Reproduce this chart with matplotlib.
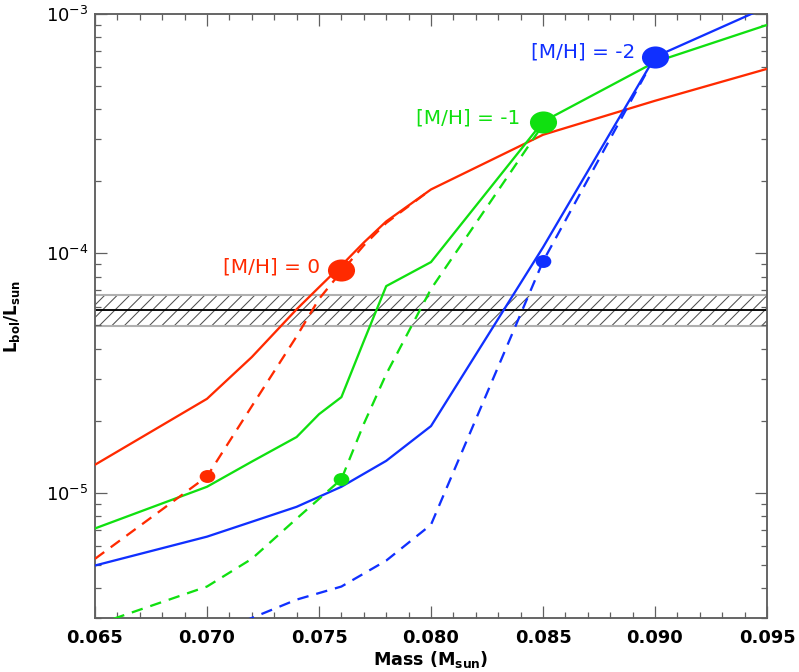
import numpy as np
import matplotlib
matplotlib.use("Agg")
import matplotlib.pyplot as plt
from matplotlib.path import Path
from matplotlib.transforms import Affine2D
from matplotlib.ticker import MultipleLocator, FormatStrFormatter, LogLocator, NullFormatter

plt.rcParams['font.family'] = ['DejaVu Sans']
plt.rcParams['mathtext.fontset'] = 'dejavusans'
plt.rcParams['mathtext.default'] = 'bf'
plt.rcParams['hatch.linewidth'] = 0.5

# model tracks, Lbol/Lsun against mass (Msun)
mass_red = [0.065, 0.070, 0.072, 0.074, 0.075, 0.076, 0.077, 0.078, 0.080, 0.085, 0.090, 0.095]
lum_red = [1.31e-5, 2.47e-5, 3.69e-5, 5.84e-5, 7.22e-5, 8.91e-5, 1.11e-4, 1.36e-4, 1.85e-4, 3.13e-4, 4.34e-4, 5.9e-4]
mass_red_d = [0.065, 0.070, 0.072, 0.074, 0.075, 0.076, 0.077, 0.078, 0.080]
lum_red_d = [5.3e-6, 1.17e-5, 2.3e-5, 4.5e-5, 6.45e-5, 8.4e-5, 1.08e-4, 1.34e-4, 1.85e-4]

mass_green = [0.065, 0.070, 0.072, 0.074, 0.075, 0.076, 0.077, 0.078, 0.080, 0.085, 0.090, 0.095]
lum_green = [7.1e-6, 1.06e-5, 1.35e-5, 1.71e-5, 2.13e-5, 2.51e-5, 4.3e-5, 7.3e-5, 9.2e-5, 3.55e-4, 6.3e-4, 9.0e-4]
mass_green_d = [0.065, 0.070, 0.072, 0.074, 0.076, 0.077, 0.078, 0.080, 0.085]
lum_green_d = [2.8e-6, 4.06e-6, 5.3e-6, 7.8e-6, 1.14e-5, 1.94e-5, 3.13e-5, 7.1e-5, 3.45e-4]

mass_blue = [0.065, 0.070, 0.072, 0.074, 0.076, 0.078, 0.080, 0.085, 0.090, 0.095]
lum_blue = [4.97e-6, 6.56e-6, 7.57e-6, 8.74e-6, 1.06e-5, 1.36e-5, 1.90e-5, 1.06e-4, 6.62e-4, 1.07e-3]
mass_blue_d = [0.070, 0.072, 0.074, 0.076, 0.078, 0.080, 0.085, 0.090]
lum_blue_d = [2.54e-6, 3.0e-6, 3.58e-6, 4.06e-6, 5.21e-6, 7.36e-6, 9.26e-5, 6.62e-4]

# big / small dots
big_mass = [0.076, 0.085, 0.090]
big_lum = [8.5e-5, 3.55e-4, 6.62e-4]
small_mass = [0.070, 0.076, 0.085]
small_lum = [1.17e-5, 1.14e-5, 9.26e-5]

labels = ['[M/H] = 0', '[M/H] = -1', '[M/H] = -2']
colors = ['#ff2a00', '#10e010', '#1030ff']

# observed luminosity and its range
band_lo, band_mid, band_hi = 4.96e-5, 5.79e-5, 6.68e-5

fig = plt.figure(figsize=(799 / 150, 672 / 150), dpi=150)
ax = fig.add_axes([95 / 799, 54 / 672, 672 / 799, 604 / 672])

ax.set_yscale('log')
ax.set_xlim(0.065, 0.095)
ax.set_ylim(3e-6, 1e-3)

ax.fill_between([0.065, 0.095], band_lo, band_hi, facecolor='none', edgecolor='#505050',
                hatch='////', linewidth=0, zorder=1)
ax.axhline(band_lo, color='#b0b0b0', lw=1.0, zorder=1)
ax.axhline(band_hi, color='#b0b0b0', lw=1.0, zorder=1)
ax.axhline(band_mid, color='black', lw=0.9, zorder=2)

solid = [(mass_red, lum_red), (mass_green, lum_green), (mass_blue, lum_blue)]
dashed = [(mass_red_d, lum_red_d), (mass_green_d, lum_green_d), (mass_blue_d, lum_blue_d)]
for (m, l), c in zip(solid, colors):
    ax.plot(m, l, color=c, lw=1.1, zorder=3)
for (m, l), c in zip(dashed, colors):
    ax.plot(m, l, color=c, lw=1.1, dashes=(5, 3.5), zorder=3)

# slightly flattened dots like the original
oval = Path.unit_circle().transformed(Affine2D().scale(1.25, 1.0))
for i, c in enumerate(colors):
    ax.plot(big_mass[i], big_lum[i], marker=oval, ms=12, color=c, zorder=4)
    ax.plot(small_mass[i], small_lum[i], marker=oval, ms=6.5, color=c, zorder=4)

ax.text(0.07504, 8.74e-5, labels[0], color=colors[0], fontsize=9.6, ha='right', va='center')
ax.text(0.08397, 3.69e-4, labels[1], color=colors[1], fontsize=9.6, ha='right', va='center')
ax.text(0.08911, 6.95e-4, labels[2], color=colors[2], fontsize=9.6, ha='right', va='center')

ax.xaxis.set_major_locator(MultipleLocator(0.005))
ax.xaxis.set_minor_locator(MultipleLocator(0.001))
ax.xaxis.set_major_formatter(FormatStrFormatter('%.3f'))
ax.yaxis.set_major_locator(LogLocator(base=10))
ax.yaxis.set_minor_locator(LogLocator(base=10, subs=np.arange(2, 10)))
ax.yaxis.set_minor_formatter(NullFormatter())

ax.tick_params(which='both', direction='in', top=True, right=True, color='#606060')
ax.tick_params(which='major', length=5.8, width=0.6)
ax.tick_params(which='minor', length=2.9, width=0.6)
ax.tick_params(axis='x', which='major', pad=5.5, labelsize=8.6)
ax.tick_params(axis='y', which='major', pad=3.0, labelsize=8.6)
for lab in ax.get_xticklabels():
    lab.set_fontweight('bold')
for sp in ax.spines.values():
    sp.set_color('#606060')
    sp.set_linewidth(0.9)

ax.set_xlabel(r'Mass (M$_{sun}$)', fontsize=8.4, fontweight='bold')
ax.set_ylabel(r'$L_{bol}/L_{sun}$', fontsize=8)
ax.xaxis.set_label_coords(0.5, -0.052)
ax.yaxis.set_label_coords(-0.109, 0.5)

fig.savefig('out.png', dpi=150)
